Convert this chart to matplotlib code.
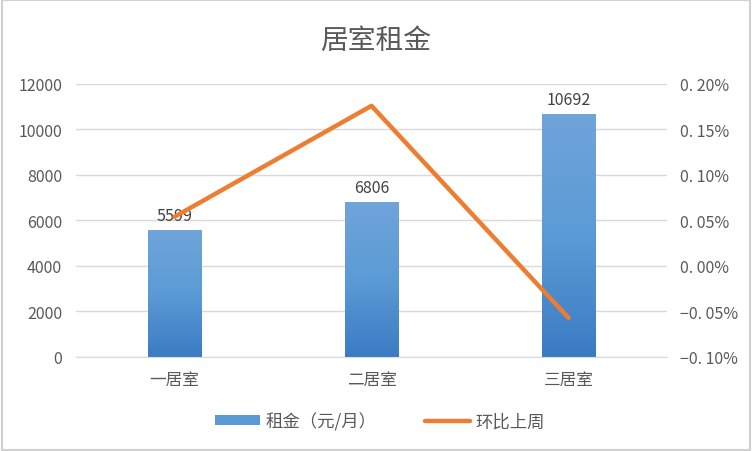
import numpy as np
import matplotlib
matplotlib.use("Agg")
import matplotlib.pyplot as plt
from matplotlib.patches import Rectangle, Patch
from matplotlib.lines import Line2D
from matplotlib.colors import LinearSegmentedColormap

plt.rcParams['font.family'] = ['Noto Sans CJK SC', 'DejaVu Sans']

# data
rooms = ['一居室', '二居室', '三居室']
rent = [5599, 6806, 10692]
wow = [0.054, 0.176, -0.057]  # 环比上周, in percent
left_ticks = [0, 2000, 4000, 6000, 8000, 10000, 12000]
right_ticks = [-0.10, -0.05, 0.00, 0.05, 0.10, 0.15, 0.20]

grey = '#595959'
blue_cmap = LinearSegmentedColormap.from_list('bar', ['#3B7BC4', '#5B9BD5', '#70A4DA'])

fig = plt.figure(figsize=(7.52, 4.52), dpi=100)
fig.patches.append(Rectangle((0.002, 0.003), 0.995, 0.994, transform=fig.transFigure,
                             fill=False, edgecolor='#D0D0D0', linewidth=1.5))

ax = fig.add_axes([0.101, 0.208, 0.786, 0.604])
x = np.arange(len(rooms))
bars = ax.bar(x, rent, width=0.27, color='#5B9BD5', zorder=2)

# vertical gradient on each bar
grad = np.linspace(0, 1, 256).reshape(-1, 1)
for b in bars:
    x0, w, h = b.get_x(), b.get_width(), b.get_height()
    im = ax.imshow(grad, cmap=blue_cmap, origin='lower', aspect='auto',
                   extent=[x0, x0 + w, 0, h], zorder=2)
    im.set_clip_path(b)

for xi, v in zip(x, rent):
    ax.text(xi, v + 250, str(v), ha='center', va='bottom', fontsize=11.5, color='#404040', zorder=5)

ax.set_xlim(-0.5, 2.5)
ax.set_ylim(0, 12000)
ax.set_yticks(left_ticks)
ax.set_yticklabels([str(t) for t in left_ticks])
ax.set_xticks(x)
ax.set_xticklabels(rooms)
ax.grid(axis='y', color='#D9D9D9', linewidth=1, zorder=0)
ax.set_axisbelow(True)
for s in ['top', 'left', 'right']:
    ax.spines[s].set_visible(False)
ax.spines['bottom'].set_color('#D9D9D9')
ax.tick_params(axis='y', length=0, pad=10, labelsize=11.5, labelcolor=grey)
ax.tick_params(axis='x', length=0, pad=10, labelsize=12, labelcolor=grey)

ax2 = ax.twinx()
ax2.plot(x, wow, color='#ED7D31', linewidth=3.2, solid_capstyle='round', solid_joinstyle='round', zorder=4)
ax2.set_ylim(-0.10, 0.20)
ax2.set_yticks(right_ticks)
lbls = []
for t in right_ticks:
    s = f'{abs(t):.2f}'.replace('.', '. ') + '%'
    lbls.append(('−' if t < -1e-9 else '') + s)
ax2.set_yticklabels(lbls)
for s in ['top', 'left', 'right', 'bottom']:
    ax2.spines[s].set_visible(False)
ax2.tick_params(axis='y', length=0, pad=9, labelsize=11.5, labelcolor=grey)

fig.text(0.5, 0.91, '居室租金', ha='center', va='center', fontsize=20, color=grey)

handles = [Patch(facecolor='#5B9BD5', edgecolor='none'),
           Line2D([0], [0], color='#ED7D31', linewidth=3.2, solid_capstyle='round')]
fig.legend(handles, ['租金（元/月）', '环比上周'], loc='center', bbox_to_anchor=(0.505, 0.066),
           ncol=2, frameon=False, fontsize=12.5, labelcolor=grey, handlelength=2.6,
           handleheight=0.5, columnspacing=2.8, handletextpad=0.3)

fig.savefig('out.png', dpi=100)
